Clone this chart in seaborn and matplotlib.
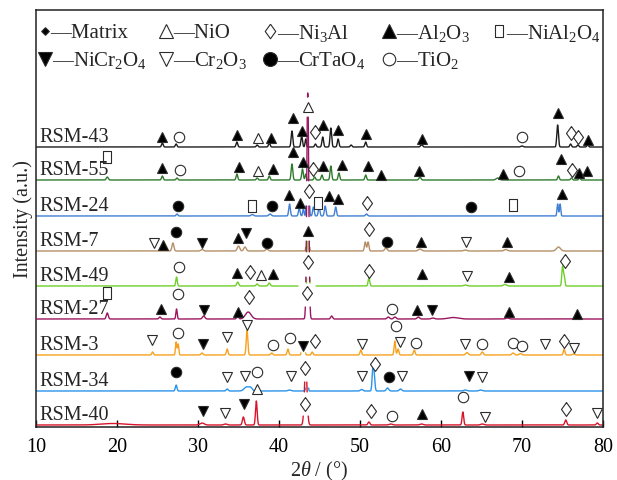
import numpy as np
import pandas as pd
import matplotlib
matplotlib.use("Agg")
import matplotlib.pyplot as plt
import seaborn as sns

# ---------------- data ----------------
SAMPLES = ["RSM-43", "RSM-55", "RSM-24", "RSM-7", "RSM-49", "RSM-27", "RSM-3", "RSM-34", "RSM-40"]
COLORS = ["#1c1c1c", "#2e7b2e", "#3f7fd4", "#b58f66", "#6fcf2a", "#9c1560", "#f7a21e", "#2a93ea", "#d8142a"]
OFFSETS = [280, 247, 211, 176, 141, 108, 72, 36, 2]   # vertical stacking (intensity units)

# peaks: (2theta, height, sigma)
PEAKS_RSM43 = [(25.6, 4, .1), (27.3, 3, .1), (34.8, 5, .1), (37.3, 2, .1), (38.8, 4, .1), (41.6, 16, .1),
               (42.8, 11, .1), (43.3, 8, .08), (44.5, 3, .1), (45.4, 10, .1), (46.4, 19, .1), (47.3, 8, .1),
               (48.9, 2, .1), (50.7, 5, .1), (57.6, 2.5, .12), (70.0, 1, .15), (74.4, 22, .1), (76.0, 3, .1),
               (76.9, 2, .1), (78.1, 2, .1)]
PEAKS_RSM55 = [(18.8, 3, .12), (25.6, 4, .1), (27.4, 2, .1), (34.8, 6, .1), (37.3, 2, .1), (38.8, 4, .1),
               (41.6, 16, .1), (42.9, 11, .1), (43.3, 6, .08), (44.4, 3, .1), (45.3, 5, .1), (46.4, 14, .1),
               (47.4, 7, .1), (50.7, 5, .1), (52.4, 3, .12), (57.4, 3, .12), (67.0, 2, .2), (74.5, 4, .1),
               (76.1, 2, .1), (77.1, 2, .1)]
PEAKS_RSM24 = [(27.4, 2, .1), (36.7, 1.5, .15), (38.9, 2, .15), (41.3, 12, .1), (42.5, 8, .1), (43.0, 7, .08),
               (44.25, 9, .1), (44.95, 9, .1), (45.7, 10, .1), (47.0, 9, .1), (50.8, 2, .12), (74.4, 12, .08),
               (74.7, 12, .08)]
PEAKS_RSM7 = [(26.9, 8, .12), (30.5, 1.5, .15), (35.0, 5, .15), (35.8, 4, .15), (38.5, 2, .15), (50.65, 9, .1),
              (51.0, 9, .1), (53.2, 3, .15), (57.4, 2, .2), (63.0, 1, .2), (68.0, 1.5, .2), (74.5, 4, .25)]
PEAKS_RSM49 = [(27.35, 9, .09), (34.9, 4, .12), (37.3, 2, .12), (38.8, 3, .12), (51.1, 8, .1), (63.0, 1, .2),
               (67.9, 1.5, .2), (75.0, 19, .09), (75.2, 10, .09)]
PEAKS_RSM27 = [(18.8, 6, .12), (25.3, 2, .12), (27.35, 10, .08), (30.7, 3, .15), (34.9, 3, .12), (36.2, 7, .35),
               (46.5, 3, .12), (53.5, 2, .15), (54.3, 2, .15), (57.2, 2, .15), (59.0, 1, .2), (61.5, 1.5, .6),
               (68.2, 1, .2), (76.8, 1, .2)]
PEAKS_RSM3 = [(24.4, 3, .1), (27.3, 13, .08), (27.55, 11, .08), (30.5, 2, .12), (33.6, 6, .1), (36.05, 25, .1),
              (39.1, 2, .12), (41.1, 6, .1), (44.1, 3, .1), (50.1, 5, .1), (54.3, 14, .09), (54.7, 6, .1),
              (56.7, 5, .1), (63.2, 2.5, .15), (65.1, 3, .12), (68.9, 2, .15), (69.8, 1.5, .15), (75.2, 6, .1),
              (76.4, 1, .15)]
PEAKS_RSM34 = [(27.3, 6, .1), (33.6, 2, .12), (36.0, 4, .3), (36.5, 3, .2), (41.3, 1, .2), (50.2, 1.5, .15),
               (51.6, 23, .1), (51.75, 12, .1), (53.4, 3, .15), (55.0, 2, .15), (63.0, 1, .2), (64.9, 1, .2)]
PEAKS_RSM40 = [(19.5, 1.5, 1.5), (30.5, 2, .25), (33.4, 1, .2), (35.6, 8, .12), (37.2, 24, .1), (51.1, 3, .12),
               (53.8, 1, .2), (57.6, 1, .2), (62.7, 13, .1), (65.1, 1, .2), (75.4, 5, .12), (79.3, 2, .12)]

# matrix (gamma/gamma') peak, partly cut out: (centre, height, sigma, window lo, window hi, visible bands)
MATRIX_RSM43 = None
MATRIX_RSM55 = None
MATRIX_RSM24 = (43.55, 200, .10, 43.15, 43.95, [(-5, 10)])
MATRIX_RSM7 = (43.55, 100, .10, 43.15, 43.95, [(-5, 4)])
MATRIX_RSM49 = (43.6, 150, .08, 42.35, 44.57, [(3, 8), (34, 45)])
MATRIX_RSM27 = (43.55, 226, .124, 42.9, 44.2, [(-5, 12), (37, 42), (67, 78), (102, 113), (138, 202), (222, 227)])
MATRIX_RSM3 = (43.0, 200, .10, 42.7, 43.3, [(-5, 2)])
MATRIX_RSM34 = (43.45, 100, .08, 43.1, 43.8, [(-5, 3)])
MATRIX_RSM40 = (43.3, 60, .159, 42.8, 43.8, [(-5, 9), (33, 43)])

# phase markers: (code, 2theta, height above trace baseline)
MARKS_RSM43 = [("A", 25.56, 10), ("T", 27.65, 10), ("A", 34.81, 12), ("N", 37.41, 9), ("A", 39.01, 9),
               ("A", 41.73, 29), ("A", 42.84, 16), ("N", 43.58, 40), ("D", 44.44, 15), ("A", 45.43, 22),
               ("A", 47.28, 17), ("A", 50.74, 13), ("A", 57.65, 8), ("T", 70.0, 10), ("A", 74.44, 34),
               ("D", 76.05, 14), ("D", 76.91, 10), ("A", 78.15, 7)]
MARKS_RSM55 = [("S", 18.77, 23), ("A", 25.56, 12), ("T", 27.77, 10), ("A", 35.06, 13), ("N", 37.41, 9),
               ("A", 39.26, 11), ("A", 41.73, 28), ("A", 42.96, 18), ("D", 44.2, 11), ("A", 45.43, 14),
               ("A", 47.78, 15), ("A", 50.99, 14), ("A", 52.59, 5), ("A", 57.28, 9), ("A", 67.65, 6),
               ("T", 69.63, 9), ("A", 74.81, 21), ("D", 76.17, 10), ("A", 77.04, 7), ("A", 78.02, 9)]
MARKS_RSM24 = [("B", 27.53, 10), ("S", 36.67, 10), ("B", 39.14, 10), ("A", 41.23, 21), ("A", 42.59, 13),
               ("D", 43.7, 25), ("S", 44.81, 13), ("A", 46.17, 20), ("A", 47.28, 17), ("D", 50.86, 13),
               ("B", 63.70, 9), ("S", 68.89, 11), ("A", 74.94, 22)]
MARKS_RSM7 = [("C", 24.57, 8), ("A", 25.68, 6), ("B", 27.28, 19), ("V", 30.49, 8), ("A", 34.94, 13),
              ("V", 35.93, 18), ("B", 38.52, 8), ("A", 43.58, 20), ("D", 51.11, 22), ("B", 53.33, 9),
              ("A", 57.53, 9), ("C", 63.09, 9), ("A", 68.15, 9)]
MARKS_RSM49 = [("T", 27.65, 19), ("A", 34.81, 13), ("D", 36.42, 14), ("N", 37.78, 11), ("A", 39.26, 12),
               ("D", 43.58, 24), ("D", 51.11, 15), ("A", 57.65, 12), ("C", 63.21, 10), ("A", 68.4, 9),
               ("D", 75.3, 25)]
MARKS_RSM27 = [("S", 18.77, 26), ("A", 25.43, 10), ("T", 27.53, 25), ("V", 30.74, 9), ("A", 34.94, 7),
               ("D", 36.3, 22), ("D", 43.46, 26), ("T", 53.95, 10), ("A", 57.04, 9), ("V", 58.89, 9),
               ("A", 68.4, 7), ("A", 76.79, 5)]
MARKS_RSM3 = [("C", 24.32, 15), ("T", 27.53, 22), ("V", 30.62, 11), ("C", 33.58, 18), ("C", 36.05, 30),
              ("T", 39.26, 10), ("T", 41.36, 17), ("V", 42.96, 9), ("D", 44.44, 14), ("C", 50.25, 11),
              ("T", 54.44, 29), ("C", 54.94, 13), ("T", 56.91, 12), ("C", 62.96, 11), ("T", 65.06, 11),
              ("T", 68.89, 12), ("T", 70.0, 9), ("C", 72.84, 11), ("D", 75.19, 14), ("C", 76.42, 7)]
MARKS_RSM34 = [("B", 27.28, 19), ("C", 33.58, 14), ("C", 35.8, 15), ("T", 37.28, 19), ("N", 37.28, 2),
               ("C", 41.48, 15), ("D", 43.21, 23), ("C", 50.25, 15), ("D", 51.85, 27), ("B", 53.58, 14),
               ("C", 55.19, 15), ("V", 63.46, 15), ("C", 65.06, 14)]
MARKS_RSM40 = [("V", 30.62, 14), ("C", 33.33, 12), ("V", 35.68, 21), ("D", 43.21, 21), ("D", 51.36, 14),
               ("T", 53.95, 9), ("A", 57.65, 11), ("T", 62.72, 28), ("C", 65.43, 8), ("D", 75.43, 16),
               ("C", 79.26, 12)]

LEGEND_CODES_ROW1 = ["M", "N", "D", "A", "S"]
LEGEND_LABELS_ROW1 = ["—Matrix", "—NiO", "—Ni$_3$Al", "—Al$_2$O$_3$", "—NiAl$_2$O$_4$"]
LEGEND_CODES_ROW2 = ["V", "C", "B", "T"]
LEGEND_LABELS_ROW2 = ["—NiCr$_2$O$_4$", "—Cr$_2$O$_3$", "—CrTaO$_4$", "—TiO$_2$"]
X_TICKS = [10, 20, 30, 40, 50, 60, 70, 80]

PEAKS = [PEAKS_RSM43, PEAKS_RSM55, PEAKS_RSM24, PEAKS_RSM7, PEAKS_RSM49, PEAKS_RSM27, PEAKS_RSM3, PEAKS_RSM34, PEAKS_RSM40]
MATRIX = [MATRIX_RSM43, MATRIX_RSM55, MATRIX_RSM24, MATRIX_RSM7, MATRIX_RSM49, MATRIX_RSM27, MATRIX_RSM3, MATRIX_RSM34, MATRIX_RSM40]
MARKS = [MARKS_RSM43, MARKS_RSM55, MARKS_RSM24, MARKS_RSM7, MARKS_RSM49, MARKS_RSM27, MARKS_RSM3, MARKS_RSM34, MARKS_RSM40]

# ---------------- style ----------------
sns.set_theme(style="ticks")
plt.rcParams["font.family"] = ["Liberation Serif", "DejaVu Serif"]
plt.rcParams["mathtext.fontset"] = "custom"
plt.rcParams["mathtext.rm"] = "Liberation Serif"
plt.rcParams["mathtext.it"] = "Liberation Serif:italic"

DIAMOND = [(0, 1), (0.72, 0), (0, -1), (-0.72, 0), (0, 1)]
SMALL_DIAMOND = [(0, 1), (1, 0), (0, -1), (-1, 0), (0, 1)]
RECT = [(-0.7, -1), (0.7, -1), (0.7, 1), (-0.7, 1), (-0.7, -1)]
EDGE = "#2a2a2a"
STYLE = {
    "M": dict(marker=SMALL_DIAMOND, ms=5.5, mfc="black"),
    "N": dict(marker="^", ms=7.5, mfc="white"),
    "D": dict(marker=DIAMOND, ms=10, mfc="white"),
    "A": dict(marker="^", ms=7.5, mfc="black"),
    "S": dict(marker=RECT, ms=8, mfc="white"),
    "V": dict(marker="v", ms=7.5, mfc="black"),
    "C": dict(marker="v", ms=7.5, mfc="white"),
    "B": dict(marker="o", ms=7.5, mfc="black"),
    "T": dict(marker="o", ms=7.5, mfc="white"),
}
LEG_SIZE = {"M": 5.5, "N": 10, "D": 10.5, "A": 10, "S": 8.5, "V": 10, "C": 10, "B": 10, "T": 9}

W, H = 617, 481
AX_L, AX_R, AX_T, AX_B = 36, 603, 11, 428
fig = plt.figure(figsize=(W / 100, H / 100), dpi=100)
ax = fig.add_axes([AX_L / W, (H - AX_B) / H, (AX_R - AX_L) / W, (AX_B - AX_T) / H])

x = np.unique(np.concatenate([np.linspace(10, 80, 14001), np.linspace(42.2, 44.8, 5201)]))

for i, name in enumerate(SAMPLES):
    yrel = np.zeros_like(x)
    for pos, h, s in PEAKS[i]:
        yrel += h * np.exp(-(x - pos) ** 2 / (2 * s ** 2))
    mat = MATRIX[i]
    if mat is not None:
        c, h, s, lo, hi, bands = mat
        yrel += h * np.exp(-(x - c) ** 2 / (2 * s ** 2))
        inwin = (x >= lo) & (x <= hi)
        vis = np.zeros_like(x, dtype=bool)
        for b0, b1 in bands:
            vis |= (yrel >= b0) & (yrel <= b1)
        yrel = np.where(inwin & ~vis, np.nan, yrel)
    y = OFFSETS[i] + yrel
    ok = ~np.isnan(y)
    seg = np.cumsum(np.r_[True, ok[1:] != ok[:-1]])
    df = pd.DataFrame({"x": x[ok], "y": y[ok], "seg": seg[ok]})
    sns.lineplot(data=df, x="x", y="y", units="seg", estimator=None, sort=False,
                 color=COLORS[i], lw=1.0, ax=ax, legend=False,
                 zorder=3 if name == "RSM-27" else 2)
    ax.text(10.37, OFFSETS[i] + 6, name, fontsize=14.5, ha="left", va="baseline", zorder=5)
    for code, mx, my in MARKS[i]:
        st = STYLE[code]
        ax.plot([mx], [OFFSETS[i] + my], ls="none", marker=st["marker"], ms=st["ms"],
                mfc=st["mfc"], mec=EDGE, mew=0.8, zorder=4)

# legend drawn as two rows of marker + text at fixed columns (pixel layout)
COL_PX = [45, 166, 270, 389, 499]
ROW_PX = [32, 60]


def ax_frac(px, py):
    return (px - AX_L) / (AX_R - AX_L), (AX_B - py) / (AX_B - AX_T)


for row, (codes, labels) in enumerate([(LEGEND_CODES_ROW1, LEGEND_LABELS_ROW1),
                                       (LEGEND_CODES_ROW2, LEGEND_LABELS_ROW2)]):
    for col, (code, lab) in enumerate(zip(codes, labels)):
        st = STYLE[code]
        mxf, myf = ax_frac(COL_PX[col], ROW_PX[row])
        ax.plot([mxf], [myf], transform=ax.transAxes, ls="none", marker=st["marker"],
                ms=LEG_SIZE[code], mfc=st["mfc"], mec=EDGE, mew=0.8, clip_on=False, zorder=6)
        dx = 5 if code == "M" else 7
        txf, tyf = ax_frac(COL_PX[col] + dx, ROW_PX[row] + 6.5)
        ax.text(txf, tyf, lab, transform=ax.transAxes, fontsize=15, ha="left", va="baseline", zorder=6)

ax.set_xlim(10, 80)
ax.set_ylim(0, 417)
ax.set_xticks(X_TICKS)
ax.set_yticks([])
ax.tick_params(axis="x", direction="in", length=5, width=1, labelsize=14.5, pad=7, colors="black")
for sp in ax.spines.values():
    sp.set_visible(True)
    sp.set_linewidth(1.1)
    sp.set_color("#222222")
ax.set_xlabel(r"$\mathit{2\theta}$ / (°)", fontsize=14.5, labelpad=2)
ax.set_ylabel("Intensity (a.u.)", fontsize=14.5, labelpad=2)
ax.set_facecolor("white")
fig.patch.set_facecolor("white")
fig.savefig("out.png", dpi=100)
